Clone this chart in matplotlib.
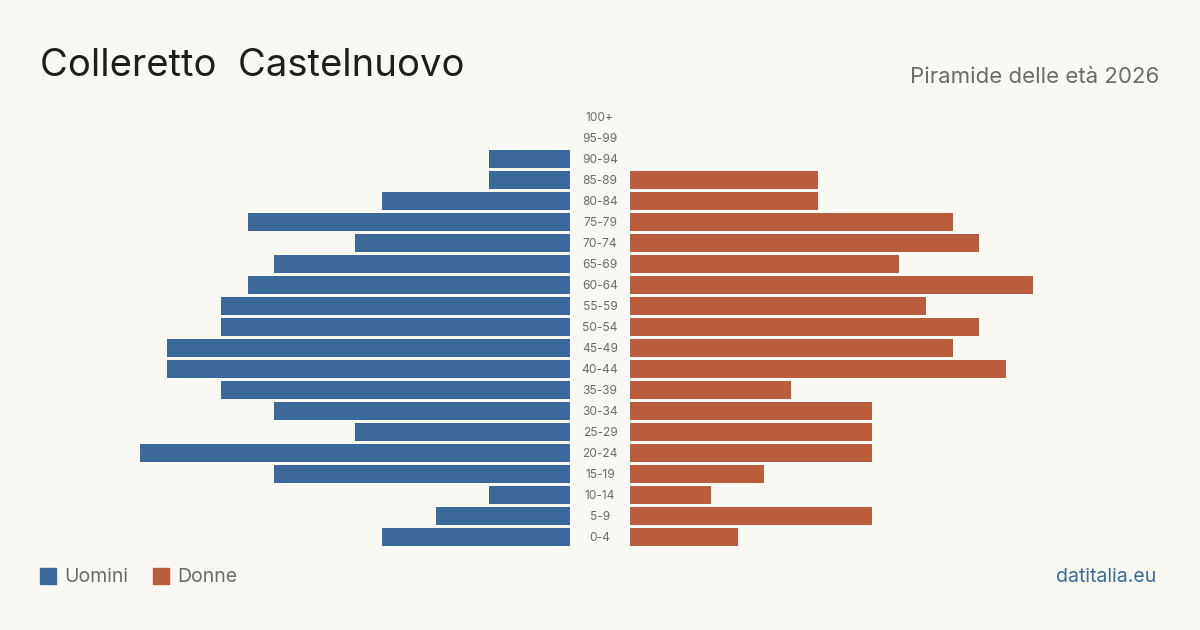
import matplotlib
matplotlib.use("Agg")
import matplotlib.pyplot as plt
from matplotlib.patches import Rectangle

age_groups = ["0-4", "5-9", "10-14", "15-19", "20-24", "25-29", "30-34", "35-39",
              "40-44", "45-49", "50-54", "55-59", "60-64", "65-69", "70-74",
              "75-79", "80-84", "85-89", "90-94", "95-99", "100+"]
men = [7, 5, 3, 11, 16, 8, 11, 13, 15, 15, 13, 13, 12, 11, 8, 12, 7, 3, 3, 0, 0]
women = [4, 9, 3, 5, 9, 9, 9, 6, 14, 12, 13, 11, 15, 10, 13, 12, 7, 7, 0, 0, 0]

title = "Colleretto  Castelnuovo"
subtitle = "Piramide delle età 2026"
legend_labels = ["Uomini", "Donne"]
source = "datitalia.eu"

BG = "#f9f8f3"
BLUE = "#3b6a9a"
ORANGE = "#b95d3c"
GRAY = "#6b6b6b"

plt.rcParams["font.family"] = ["Inter", "DejaVu Sans"]

W, H = 1200, 630
fig = plt.figure(figsize=(W / 100, H / 100), dpi=100, facecolor=BG)

xmax = 16
top_px, bot_px = 106.5, 547.5
ax_b = 1 - bot_px / H
ax_h = (bot_px - top_px) / H

axL = fig.add_axes([140 / W, ax_b, 430 / W, ax_h])
axR = fig.add_axes([630 / W, ax_b, 430 / W, ax_h])
y = list(range(len(age_groups)))
axL.barh(y, men, height=0.81, color=BLUE)
axR.barh(y, women, height=0.81, color=ORANGE)
axL.set_xlim(xmax, 0)
axR.set_xlim(0, xmax)
for ax in (axL, axR):
    ax.set_ylim(-0.5, len(age_groups) - 0.5)
    ax.axis("off")
    ax.set_facecolor("none")

for i, lab in enumerate(age_groups):
    yf = ax_b + ax_h * (i + 0.5) / len(age_groups) - 1 / H
    fig.text(600 / W, yf, lab, ha="center", va="center", fontsize=8.6, color=GRAY)

fig.text(40 / W, 1 - 66 / H, title, ha="left", va="center", fontsize=27.5, color="#1e1e1e")
fig.text(1159 / W, 1 - 77 / H, subtitle, ha="right", va="center", fontsize=16, color=GRAY)

# legend
for x0, col, lab, tx in [(40, BLUE, legend_labels[0], 64), (153, ORANGE, legend_labels[1], 177)]:
    fig.patches.append(Rectangle((x0 / W, 1 - 584 / H), 16 / W, 16 / H,
                                 transform=fig.transFigure, color=col))
    fig.text(tx / W, 1 - 577 / H, lab, ha="left", va="center", fontsize=14, color=GRAY)

fig.text(1156 / W, 1 - 577 / H, source, ha="right", va="center", fontsize=14, color=BLUE)

fig.savefig("out.png", dpi=100, facecolor=BG)
